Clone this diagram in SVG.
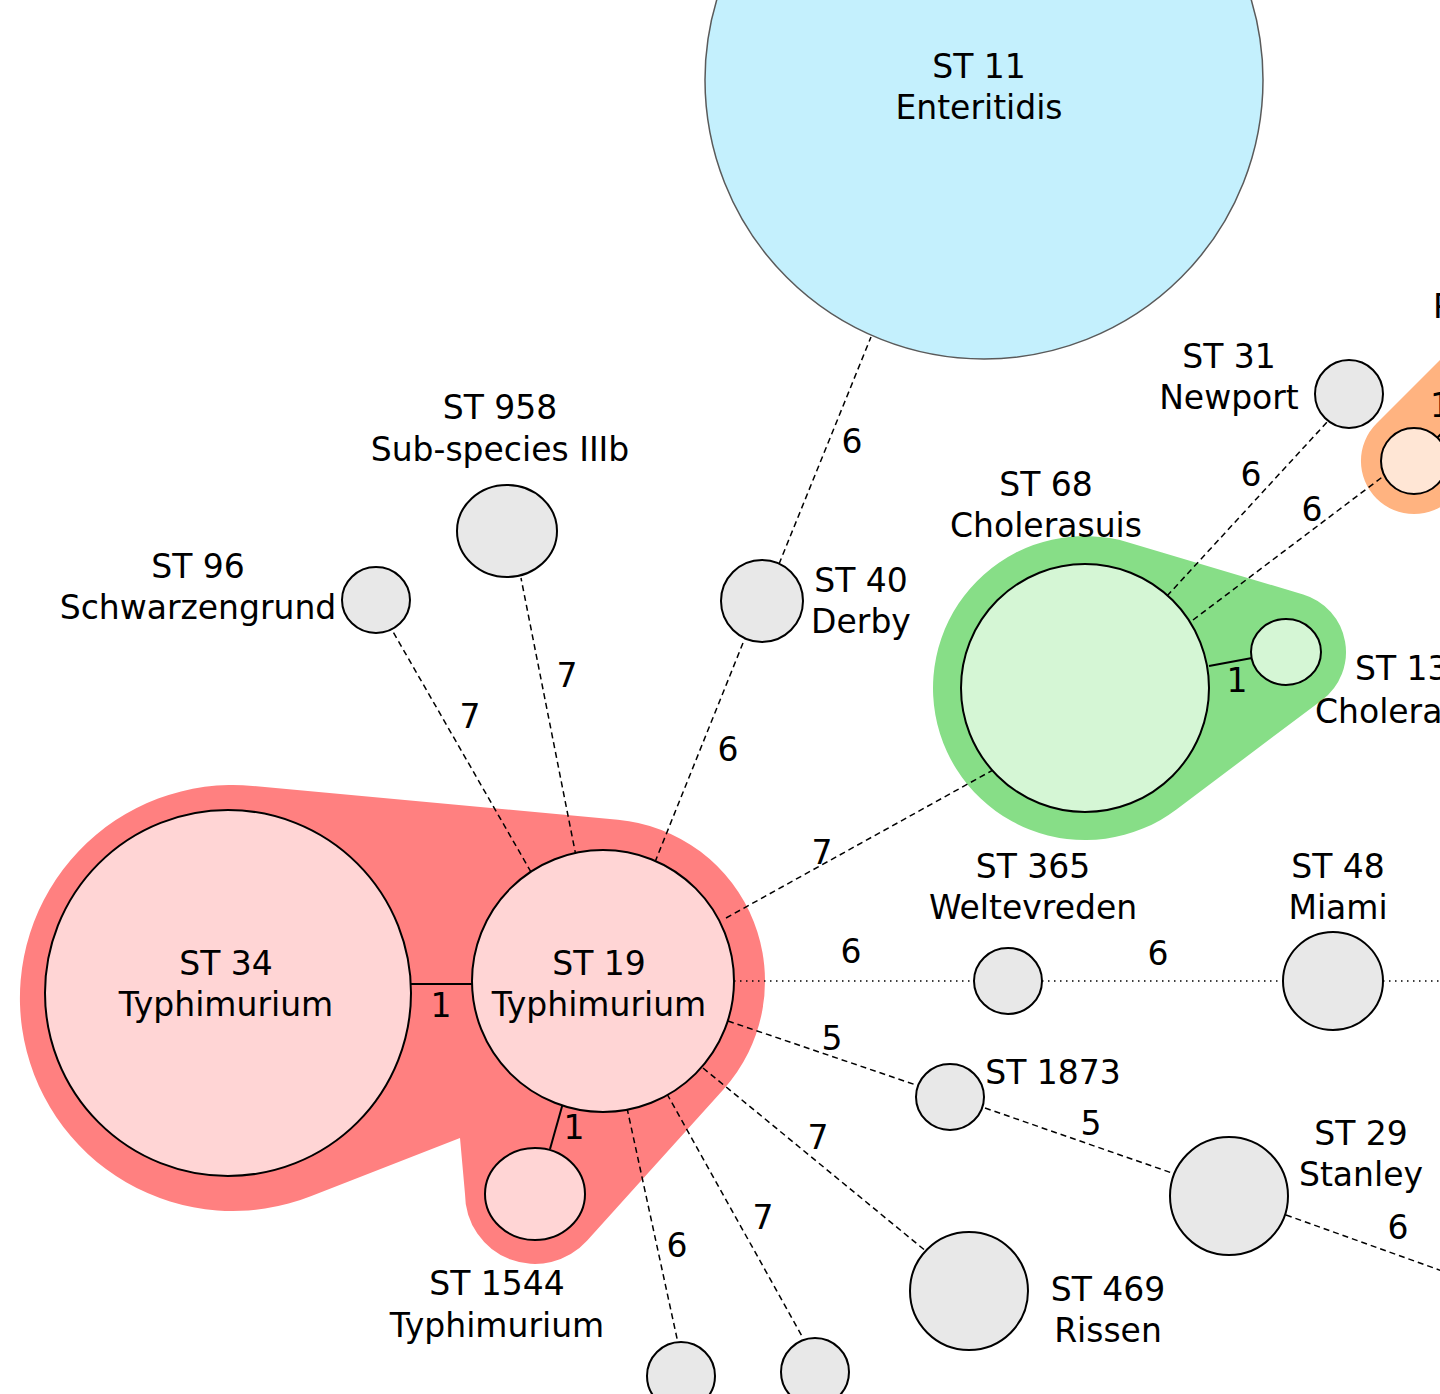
<svg xmlns="http://www.w3.org/2000/svg" width="1440" height="1394" viewBox="0 0 1440 1394">
<style>
text{font-family:"DejaVu Sans","Liberation Sans",sans-serif;font-size:33px;fill:#000;text-anchor:middle}
.s{text-anchor:start}
.n{stroke:#000;stroke-width:2}
.g{fill:#e8e8e8}
.pk{fill:#ffd5d5}
.lg{fill:#d5f6d5}
.pc{fill:#ffe6d5}
.d{fill:none;stroke:#000;stroke-width:1.5;stroke-dasharray:6 4}
.o{fill:none;stroke:#000;stroke-width:1.5;stroke-dasharray:1.5 4.5}
.l{fill:none;stroke:#000;stroke-width:2}
</style>
<rect width="1440" height="1394" fill="#fff"/>
<g id="groups">
<path id="blob-red" fill="#ff8080" d="M252.6 785.9 L617.9 819.7 A162 162 0 0 1 723.4 1089.4 L587 1240.8 A70 70 0 0 1 465 1194 L460 1138 L311.4 1196 A213 213 0 1 1 252.6 785.9 Z"/>
<path id="blob-green" fill="#87de87" d="M1128.5 542.4 L1303.2 594.5 A60 60 0 0 1 1322.1 699.9 L1176.4 809.5 A152 152 0 1 1 1128.5 542.4 Z"/>
<path id="blob-orange" fill="#ffb380" d="M1376.5 423.5 L1462.5 337.5 A53 53 0 0 1 1537.5 412.5 L1451.5 498.5 A53 53 0 1 1 1376.5 423.5 Z"/>
</g>
<g id="connectors">
<line class="l" x1="410" y1="984" x2="472" y2="984"/>
<line class="l" x1="563" y1="1103" x2="550" y2="1149"/>
<line class="l" x1="1209" y1="666" x2="1252" y2="658"/>
<line class="l" x1="1437" y1="438" x2="1462" y2="413"/>
<line class="d" x1="531" y1="872" x2="392" y2="630"/>
<line class="d" x1="576" y1="856" x2="521" y2="578"/>
<line class="d" x1="655" y1="862" x2="745" y2="638"/>
<line class="d" x1="779" y1="564" x2="871" y2="337"/>
<line class="d" x1="726" y1="918" x2="993" y2="770"/>
<line class="o" x1="734" y1="981" x2="974" y2="981"/>
<line class="o" x1="1042" y1="981" x2="1283" y2="981"/>
<line class="o" x1="1383" y1="981" x2="1440" y2="981"/>
<line class="d" x1="728" y1="1021" x2="916" y2="1085"/>
<line class="d" x1="985" y1="1108" x2="1172" y2="1173"/>
<line class="d" x1="1286" y1="1215" x2="1445" y2="1272"/>
<line class="d" x1="703" y1="1068" x2="927" y2="1252"/>
<line class="d" x1="667" y1="1094" x2="803" y2="1338"/>
<line class="d" x1="627" y1="1108" x2="678" y2="1343"/>
<line class="d" x1="1167" y1="596" x2="1329" y2="420"/>
<line class="d" x1="1193" y1="620" x2="1385" y2="475"/>
<text x="441" y="1017">1</text>
<text x="574" y="1139">1</text>
<text x="1237" y="692">1</text>
<text class="s" x="1430" y="417">1</text>
<text x="852" y="453">6</text>
<text x="470" y="728">7</text>
<text x="567" y="687">7</text>
<text x="728" y="761">6</text>
<text x="822" y="864">7</text>
<text x="851" y="963">6</text>
<text x="1158" y="965">6</text>
<text x="832" y="1050">5</text>
<text x="1091" y="1135">5</text>
<text x="1398" y="1239">6</text>
<text x="818" y="1149">7</text>
<text x="763" y="1229">7</text>
<text x="677" y="1257">6</text>
<text x="1251" y="486">6</text>
<text x="1312" y="521">6</text>
</g>
<g id="st11"><circle cx="984" cy="80" r="279" fill="#c4f0fd" stroke="#5a5a5a" stroke-width="1.5"/><text x="979" y="78">ST 11</text><text x="979" y="119">Enteritidis</text></g>
<g id="st34"><circle class="n pk" cx="228" cy="993" r="183"/><text x="226" y="975">ST 34</text><text x="226" y="1016">Typhimurium</text></g>
<g id="st19"><circle class="n pk" cx="603" cy="981" r="131"/><text x="599" y="975">ST 19</text><text x="599" y="1016">Typhimurium</text></g>
<g id="st1544"><ellipse class="n pk" cx="535" cy="1194" rx="50" ry="46"/><text x="497" y="1295">ST 1544</text><text x="497" y="1337">Typhimurium</text></g>
<g id="st68"><circle class="n lg" cx="1085" cy="688" r="124"/><text x="1046" y="496">ST 68</text><text x="1046" y="537">Cholerasuis</text></g>
<g id="st13x"><ellipse class="n lg" cx="1286" cy="652" rx="35" ry="33"/><text class="s" x="1355" y="680">ST 13</text><text class="s" x="1315" y="723">Cholera</text></g>
<g id="orange-node"><circle class="n pc" cx="1414" cy="461" r="33"/><text class="s" x="1433" y="318">P</text></g>
<g id="st31"><circle class="n g" cx="1349" cy="394" r="34"/><text x="1229" y="368">ST 31</text><text x="1229" y="409">Newport</text></g>
<g id="st958"><ellipse class="n g" cx="507" cy="531" rx="50" ry="46"/><text x="500" y="419">ST 958</text><text x="500" y="461">Sub-species IIIb</text></g>
<g id="st96"><ellipse class="n g" cx="376" cy="600" rx="34" ry="33"/><text x="198" y="578">ST 96</text><text x="198" y="619">Schwarzengrund</text></g>
<g id="st40"><circle class="n g" cx="762" cy="601" r="41"/><text x="861" y="592">ST 40</text><text x="861" y="633">Derby</text></g>
<g id="st365"><ellipse class="n g" cx="1008" cy="981" rx="34" ry="33"/><text x="1033" y="878">ST 365</text><text x="1033" y="919">Weltevreden</text></g>
<g id="st48"><ellipse class="n g" cx="1333" cy="981" rx="50" ry="49"/><text x="1338" y="878">ST 48</text><text x="1338" y="919">Miami</text></g>
<g id="st1873"><ellipse class="n g" cx="950" cy="1097" rx="34" ry="33"/><text x="1053" y="1084">ST 1873</text></g>
<g id="st29"><circle class="n g" cx="1229" cy="1196" r="59"/><text x="1361" y="1145">ST 29</text><text x="1361" y="1186">Stanley</text></g>
<g id="st469"><circle class="n g" cx="969" cy="1291" r="59"/><text x="1108" y="1301">ST 469</text><text x="1108" y="1342">Rissen</text></g>
<g id="node-bottom-a"><circle class="n g" cx="681" cy="1376" r="34"/></g>
<g id="node-bottom-b"><circle class="n g" cx="815" cy="1372" r="34"/></g>
</svg>
